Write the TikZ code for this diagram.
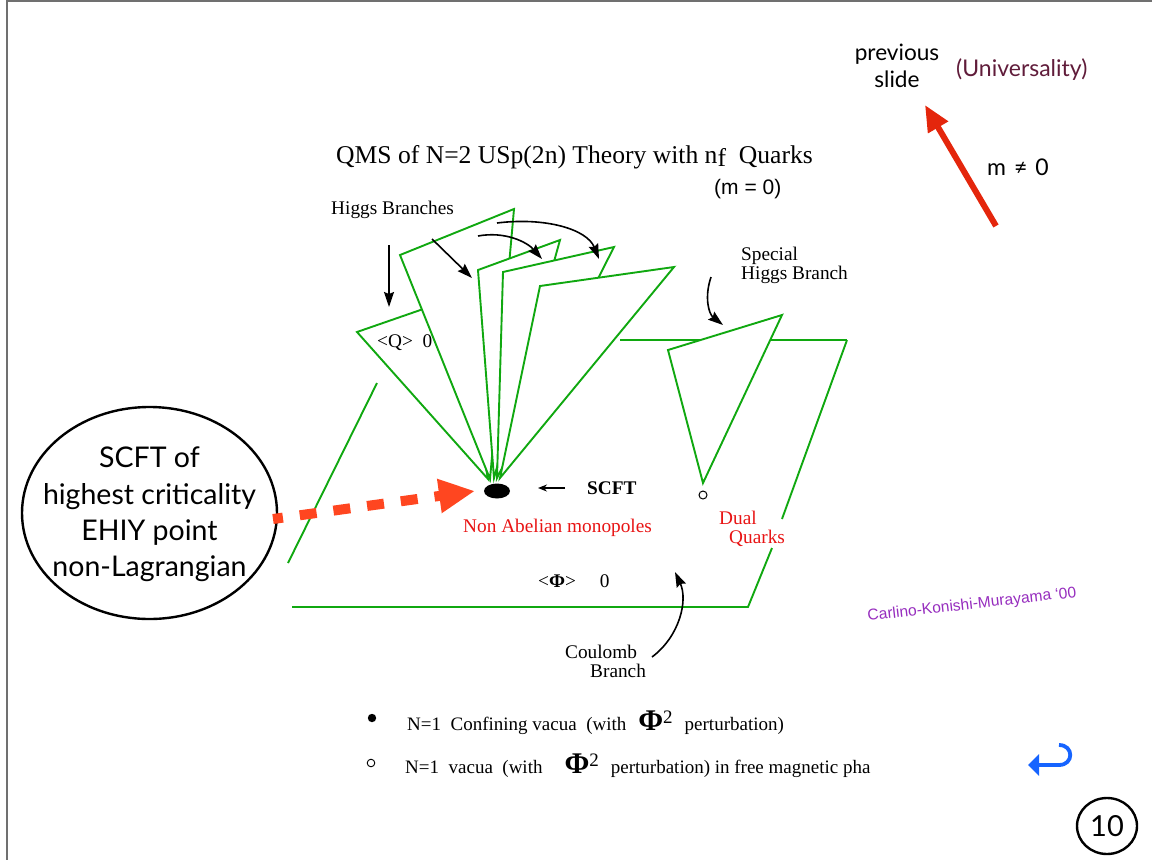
\documentclass[tikz,border=0pt]{standalone}
\usepackage{fontspec}
\setmainfont{Liberation Serif}
\newfontfamily\gill{Lato}
\newfontfamily\helv{Liberation Sans}
\usetikzlibrary{arrows.meta,shapes.geometric}
\definecolor{plgreen}{RGB}{16,168,16}
\definecolor{txtred}{RGB}{232,20,20}
\definecolor{dashred}{RGB}{255,70,32}
\definecolor{arrred}{RGB}{228,38,12}
\definecolor{maroon}{RGB}{96,28,58}
\definecolor{cpurple}{RGB}{150,45,190}
\definecolor{retblue}{RGB}{22,100,255}
\definecolor{framegray}{RGB}{112,112,112}
\newcommand\fsz[2]{\fontsize{#1}{#2}\selectfont}
\begin{document}
\begin{tikzpicture}[x=1pt,y=-1pt,
  plane/.style={draw=plgreen,line width=1.9pt,fill=white,line join=miter},
  gline/.style={draw=plgreen,line width=1.9pt},
  txt/.style={inner sep=0pt,anchor=base west},
  ctxt/.style={inner sep=0pt,anchor=base},
  blk/.style={draw=black,line width=1.6pt,-{Stealth[length=15pt,width=10pt,inset=2pt]}},
  serif/.style={font=\fsz{19.3}{22}},
]
\useasboundingbox (0,0) rectangle (1152,860);
% frame
\draw[framegray,line width=1.6pt] (7,0) -- (7,860);
\draw[framegray,line width=1.6pt] (7,1.2) -- (1152,1.2);

% Coulomb plane
\draw[gline] (377,383) -- (288,563);
\draw[gline] (292,607) -- (748,607) -- (772,548);
\draw[gline] (782,519) -- (847,340);
\draw[gline] (620,340) -- (847,340);
% special Higgs branch
\draw[plane] (668,350) -- (782,315) -- (703,483) -- cycle;
\draw[line width=1pt] (703,495) circle (4);

% fan of Higgs branches
\draw[plane] (357,332) -- (455,298) -- (488,479) -- cycle;
\draw[plane] (400,255) -- (514,209) -- (490,479) -- cycle;
\draw[plane] (478,270) -- (560,240) -- (494,478) -- cycle;
\draw[plane] (503,272) -- (614,247) -- (497,478) -- cycle;
\draw[plane] (540,286) -- (674,267) -- (500,478) -- cycle;

% SCFT point
\node[fill=black,ellipse,inner sep=0pt,minimum width=26pt,minimum height=15pt] (scftpt) at (497,491) {};

% texts
\node[txt,font=\fsz{25.6}{28}] (title) at (336,163) {QMS of N=2 USp(2n) Theory with n\raisebox{-3pt}{f}\ \ Quarks};
\node[txt,font=\helv\fsz{21}{24}] (m0) at (714,194) {(m = 0)};
\node[txt,serif] (hb) at (331,214) {Higgs Branches};
\node[txt,serif] (qlab) at (377,347) {<Q>\ \ 0};
\node[txt,serif] (shb1) at (741,260) {Special};
\node[txt,serif] (shb2) at (741,279) {Higgs Branch};
\node[txt,font=\bfseries\fsz{19.3}{22}] (scft) at (587,494) {SCFT};
\node[txt,serif,text=txtred] (nam) at (463,532) {Non Abelian monopoles};
\node[txt,serif,text=txtred] (dq1) at (719,524) {Dual};
\node[txt,serif,text=txtred] (dq2) at (729,543) {Quarks};
\node[txt,serif] (phil) at (538,587) {<\textbf{Φ}>\hspace{24pt}0};
\node[txt,serif] (cb1) at (565,658) {Coulomb};
\node[txt,serif] (cb2) at (590,677) {Branch};

% legend
\fill (372,718) circle (4.2);
\node[txt,font=\fsz{19}{22}] (leg1) at (407,730) {N=1\ \ Confining vacua\ \ (with\hspace{12pt}{\fsz{30}{30}\textbf{Φ}}\raisebox{7pt}{2}\hspace{12pt}perturbation)};
\draw[line width=0.9pt] (371,763) circle (3.8);
\node[txt,font=\fsz{19}{22}] (leg2) at (405,773) {N=1\ \ vacua\ \ (with\hspace{22pt}{\fsz{30}{30}\textbf{Φ}}\raisebox{7pt}{2}\hspace{12pt}perturbation) in free magnetic pha};

% Carlino
\node[inner sep=0pt,font=\helv\fsz{15.6}{17},text=cpurple,rotate=6.5] (ckm) at (972,605) {Carlino-Konishi-Murayama ‘00};

% big ellipse
\node[draw=black,line width=2.4pt,ellipse,minimum width=255pt,minimum height=212pt,inner sep=0pt] (scftbox) at (149.5,513) {};
\node[ctxt,font=\gill\fsz{28.5}{30}] (e1) at (149.5,467) {SCFT of};
\node[ctxt,font=\gill\fsz{28.5}{30}] (e2) at (149.5,504) {highest criticality};
\node[ctxt,font=\gill\fsz{28.5}{30}] (e3) at (149.5,540) {EHIY point};
\node[ctxt,font=\gill\fsz{28.5}{30}] (e4) at (149.5,576) {non-Lagrangian};

% top right
\node[ctxt,font=\gill\fsz{22.6}{24}] (prev1) at (897,60) {previous};
\node[ctxt,font=\gill\fsz{22.6}{24}] (prev2) at (897,87) {slide};
\node[txt,font=\gill\fsz{23}{24},text=maroon] (univ) at (956,76) {(Universality)};
\node[txt,font=\gill\fsz{23}{24}] (mneq) at (987,175) {m\hspace{8pt}≠\hspace{8pt}0};

% page number
\node[draw=black,line width=2.4pt,ellipse,minimum width=60pt,minimum height=56pt,inner sep=0pt] (pg) at (1107,826) {};
\node[font=\gill\fsz{29}{30},inner sep=0pt] at (pg.center) {10};

% connector coordinates
\coordinate (a0s) at (389,245); \coordinate (a0e) at (389,307);
\coordinate (a1s) at (432,239); \coordinate (a1e) at (472,278);
\coordinate (a2s) at (478,236); \coordinate (a2e) at (542,259);
\coordinate (a3s) at (497,223); \coordinate (a3e) at (599,259);
\coordinate (shs) at (711,277); \coordinate (she) at (723,325);
\coordinate (cbs) at (652,657); \coordinate (cbe) at (675,572);
\coordinate (scs) at (565,488); \coordinate (sce) at (538,488);
\coordinate (dss) at (273,519); \coordinate (dse) at (475,491);
\coordinate (rrs) at (996,226); \coordinate (rre) at (925,105);
\coordinate (bls) at (1059,745); \coordinate (ble) at (1028,765);

% arrows
\draw[blk] (a0s) -- (a0e);
\draw[blk] (a1s) -- (a1e);
\draw[blk] (a2s) .. controls (505,231) and (527,242) .. (a2e);
\draw[blk] (a3s) .. controls (545,217) and (587,229) .. (a3e);
\draw[blk] (shs) .. controls (704,298) and (709,314) .. (she);
\draw[blk] (cbs) .. controls (680,636) and (688,600) .. (cbe);
\draw[line width=1.3pt,-{Stealth[length=9pt,width=7pt]}] (scs) -- (sce);
\draw[dashred,line width=10pt,dash pattern=on 17pt off 17pt,dash phase=7pt,-{Triangle[length=36pt,width=32pt]}] (dss) -- (dse);
\draw[arrred,line width=6pt,-{Triangle[length=26pt,width=22pt]}] (rrs) -- (rre);
\draw[retblue,line width=3.8pt,-{Triangle[length=11pt,width=21pt]}] (bls) .. controls (1074,745) and (1074,765) .. (1059,765) -- (ble);
\end{tikzpicture}
\end{document}
